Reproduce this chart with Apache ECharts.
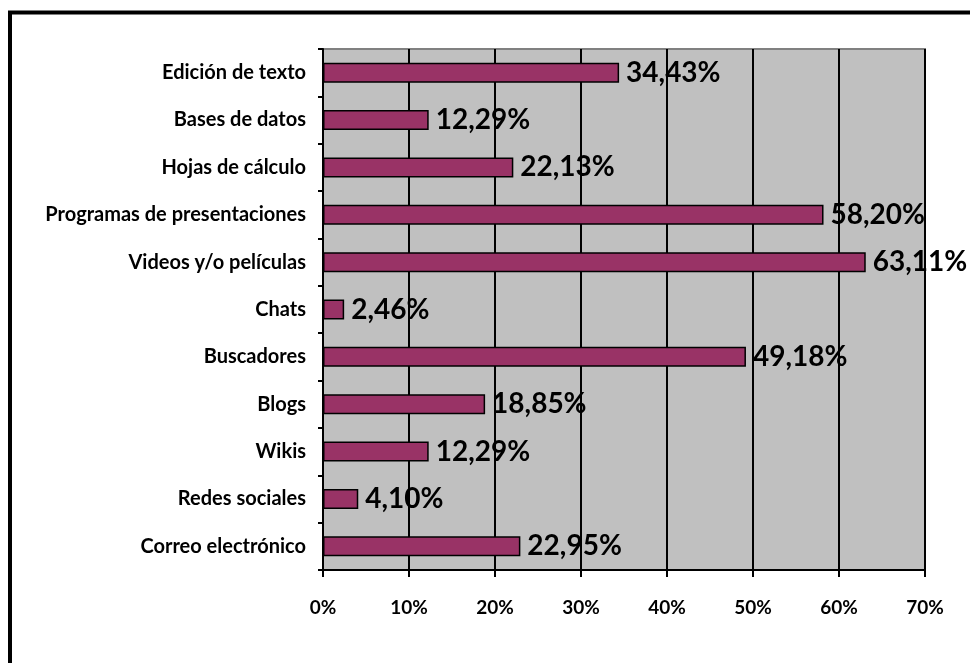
<!DOCTYPE html>
<html>
<head>
<meta charset="utf-8">
<script src="https://cdn.jsdelivr.net/npm/echarts@6/dist/echarts.min.js"></script>
<style>
html,body{margin:0;padding:0;background:#fff;}
#c{width:970px;height:663px;}
</style>
</head>
<body>
<div id="c"></div>
<script>
var categories = ["Correo electrónico","Redes sociales","Wikis","Blogs","Buscadores","Chats","Videos y/o películas","Programas de presentaciones","Hojas de cálculo","Bases de datos","Edición de texto"];
var values = [22.95, 4.10, 12.29, 18.85, 49.18, 2.46, 63.11, 58.20, 22.13, 12.29, 34.43];
var xTicks = [0, 10, 20, 30, 40, 50, 60, 70];

var FONT = 'Lato';
var chart = echarts.init(document.getElementById('c'), null, {renderer: 'canvas'});
chart.setOption({
  animation: false,
  backgroundColor: '#ffffff',
  graphic: [{
    type: 'rect',
    shape: {x: 10, y: 12.5, width: 1200, height: 900},
    style: {fill: 'none', stroke: '#000', lineWidth: 4},
    z: 100
  }],
  grid: {
    left: 323, right: 45, top: 49, bottom: 93,
    show: true, backgroundColor: '#C0C0C0', borderColor: '#808080', borderWidth: 2
  },
  xAxis: {
    type: 'value', min: xTicks[0], max: xTicks[xTicks.length - 1], interval: 10,
    axisLine: {show: true, lineStyle: {color: '#000', width: 2}},
    axisTick: {show: true, length: 7, lineStyle: {color: '#000', width: 2}},
    splitLine: {show: true, lineStyle: {color: '#000', width: 2}},
    axisLabel: {formatter: '{value}%', fontFamily: FONT, fontWeight: 'bold', fontSize: 19, color: '#000', margin: 28}
  },
  yAxis: {
    type: 'category', data: categories,
    axisLine: {show: true, lineStyle: {color: '#000', width: 2}},
    axisTick: {show: true, length: 5, lineStyle: {color: '#000', width: 2}},
    splitLine: {show: false},
    axisLabel: {fontFamily: FONT, fontWeight: 'bold', fontSize: 20, color: '#000', margin: 17}
  },
  series: [{
    type: 'bar', data: values, barWidth: 20,
    itemStyle: {color: '#993366', borderColor: '#000', borderWidth: 1.5},
    label: {
      show: true, position: 'right', distance: 7,
      fontFamily: FONT, fontWeight: 'bold', fontSize: 28, color: '#000',
      formatter: function (p) { return p.value.toFixed(2).replace('.', ',') + '%'; }
    }
  }]
});
</script>
</body>
</html>
